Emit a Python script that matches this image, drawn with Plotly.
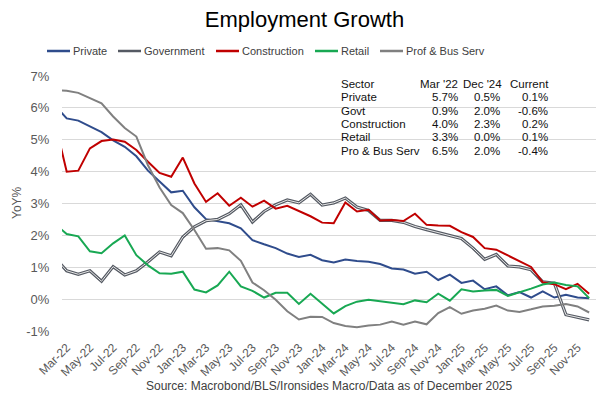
import plotly.graph_objects as go

months = ["Feb-22", "Mar-22", "Apr-22", "May-22", "Jun-22", "Jul-22", "Aug-22", "Sep-22", "Oct-22", "Nov-22", "Dec-22",
          "Jan-23", "Feb-23", "Mar-23", "Apr-23", "May-23", "Jun-23", "Jul-23", "Aug-23", "Sep-23", "Oct-23", "Nov-23", "Dec-23",
          "Jan-24", "Feb-24", "Mar-24", "Apr-24", "May-24", "Jun-24", "Jul-24", "Aug-24", "Sep-24", "Oct-24", "Nov-24", "Dec-24",
          "Jan-25", "Feb-25", "Mar-25", "Apr-25", "May-25", "Jun-25", "Jul-25", "Aug-25", "Sep-25", "Oct-25", "Nov-25", "Dec-25"]

private = [6.07, 5.67, 5.60, 5.43, 5.24, 4.98, 4.78, 4.48, 4.03, 3.69, 3.35, 3.40, 2.88, 2.51, 2.44, 2.38, 2.22, 1.85, 1.72,
           1.60, 1.43, 1.32, 1.39, 1.22, 1.15, 1.24, 1.20, 1.17, 1.10, 0.96, 0.93, 0.80, 0.86, 0.60, 0.77, 0.51, 0.58, 0.31,
           0.40, 0.12, 0.22, 0.05, 0.24, 0.05, 0.14, 0.05, 0.03]
government = [1.29, 0.89, 0.78, 0.89, 0.56, 1.02, 0.76, 0.89, 1.17, 1.48, 1.36, 1.95, 2.27, 2.46, 2.50, 2.68, 2.96, 2.42, 2.75,
              2.96, 3.11, 3.02, 3.29, 2.95, 3.02, 3.17, 2.89, 2.78, 2.47, 2.47, 2.41, 2.28, 2.18, 2.08, 2.00, 1.90, 1.60, 1.25,
              1.40, 1.04, 1.01, 0.92, 0.54, 0.50, -0.49, -0.56, -0.65]
construction = [5.53, 4.00, 4.03, 4.73, 4.96, 5.01, 4.94, 4.68, 4.31, 3.96, 3.84, 4.44, 3.63, 3.05, 3.32, 2.93, 3.18, 2.90, 3.09,
                2.84, 2.93, 2.76, 2.60, 2.40, 2.38, 3.03, 2.75, 2.80, 2.47, 2.48, 2.45, 2.68, 2.33, 2.31, 2.30, 2.10, 1.95, 1.60,
                1.55, 1.37, 1.18, 1.01, 0.53, 0.47, 0.31, 0.48, 0.17]
retail = [2.36, 2.04, 1.97, 1.50, 1.44, 1.75, 2.00, 1.38, 1.06, 0.81, 0.80, 0.86, 0.30, 0.21, 0.43, 0.86, 0.40, 0.26, 0.05,
          0.20, 0.20, -0.15, 0.17, -0.15, -0.45, -0.22, -0.08, -0.02, -0.07, -0.13, -0.16, -0.04, -0.10, 0.17, -0.05, 0.31,
          0.24, 0.27, 0.29, 0.10, 0.21, 0.33, 0.46, 0.52, 0.44, 0.40, 0.03]
prof_bus = [6.55, 6.54, 6.47, 6.30, 6.14, 5.73, 5.37, 5.10, 4.20, 3.50, 2.95, 2.70, 2.17, 1.58, 1.60, 1.53, 1.20, 0.52, 0.28,
            -0.02, -0.38, -0.64, -0.55, -0.56, -0.75, -0.84, -0.88, -0.83, -0.80, -0.70, -0.80, -0.70, -0.79, -0.44, -0.25,
            -0.46, -0.36, -0.30, -0.20, -0.36, -0.40, -0.32, -0.23, -0.21, -0.15, -0.23, -0.42]

tick_labels = months[1::2]
y_ticks = [-1, 0, 1, 2, 3, 4, 5, 6, 7]

series_names = ["Private", "Government", "Construction", "Retail", "Prof & Bus Serv"]
series_colors = ["#2F4C8C", "#555A63", "#C00000", "#18A853", "#808080"]

table_header = ["Sector", "Mar '22", "Dec '24", "Current"]
table_sectors = ["Private", "Govt", "Construction", "Retail", "Pro & Bus Serv"]
table_mar22 = ["5.7%", "0.9%", "4.0%", "3.3%", "6.5%"]
table_dec24 = ["0.5%", "2.0%", "2.3%", "0.0%", "2.0%"]
table_current = ["0.1%", "-0.6%", "0.2%", "0.1%", "-0.4%"]

FONT = "Liberation Sans, Arial, sans-serif"
W, H = 609, 399
L, R, T, B = 62, 13, 76, 68
PW, PH = W - L - R, H - T - B


def px(x):
    return (x - L) / PW


def py(y):
    return (H - B - y) / PH


fig = go.Figure()
series_values = [private, government, construction, retail, prof_bus]
for name, color, vals in zip(series_names, series_colors, series_values):
    if name == "Government":
        fig.add_trace(go.Scatter(x=months, y=vals, name=name, mode="lines", showlegend=False,
                                 line=dict(color=color, width=3.2)))
        fig.add_trace(go.Scatter(x=months, y=vals, name=name, mode="lines", showlegend=False,
                                 hoverinfo="skip", line=dict(color="#E8E8E8", width=1)))
    else:
        fig.add_trace(go.Scatter(x=months, y=vals, name=name, mode="lines", showlegend=False,
                                 line=dict(color=color, width=2)))

annotations = []
shapes = []

# legend (custom, to match the reference spacing)
leg_line_x = [47, 118, 216, 315, 380]
leg_y = 51
for name, color, lx in zip(series_names, series_colors, leg_line_x):
    shapes.append(dict(type="line", xref="paper", yref="paper", x0=px(lx), x1=px(lx + 23),
                       y0=py(leg_y), y1=py(leg_y), line=dict(color=color, width=2.5)))
    annotations.append(dict(x=px(lx + 24), y=py(leg_y), xref="paper", yref="paper", text=name,
                            showarrow=False, xanchor="left", yanchor="middle",
                            font=dict(family=FONT, size=11, color="#404040")))

# table
hdr_x = [339, 460, 503.5, 551]
val_x = [339, 459.5, 501.5, 550]
row_y0, row_dy = 84, 13.3
columns = [table_sectors, table_mar22, table_dec24, table_current]
for c, hdr in enumerate(table_header):
    anchor = "left" if c == 0 else "right"
    annotations.append(dict(x=px(hdr_x[c]), y=py(row_y0), xref="paper", yref="paper", text=hdr,
                            showarrow=False, xanchor=anchor, yanchor="middle",
                            font=dict(family=FONT, size=11.5, color="#111111")))
    for r, val in enumerate(columns[c]):
        annotations.append(dict(x=px(val_x[c]), y=py(row_y0 + row_dy * (r + 1)), xref="paper", yref="paper",
                                text=val, showarrow=False, xanchor=anchor,
                                yanchor="middle", font=dict(family=FONT, size=11.5, color="#111111")))

annotations.append(dict(x=px(17), y=py(203), xref="paper", yref="paper", text="YoY%", textangle=-90,
                        showarrow=False, xanchor="center", yanchor="middle",
                        font=dict(family=FONT, size=12, color="#595959")))
annotations.append(dict(x=0.5, y=py(386), xref="paper", yref="paper",
                        text="Source: Macrobond/BLS/Ironsides Macro/Data as of December 2025",
                        showarrow=False, xanchor="center", yanchor="middle",
                        font=dict(family=FONT, size=12, color="#404040")))

fig.update_layout(
    width=W, height=H,
    margin=dict(l=L, r=R, t=T, b=B, autoexpand=False),
    paper_bgcolor="white", plot_bgcolor="white",
    title=dict(text="Employment Growth", x=0.5, xanchor="center", xref="container",
               y=1 - 19 / H, yanchor="middle", yref="container",
               font=dict(family=FONT, size=22, color="#000000")),
    showlegend=False,
    annotations=annotations,
    shapes=shapes,
    font=dict(family=FONT),
)

fig.update_xaxes(type="category", range=[0.595, 46.59], tickmode="array", tickvals=tick_labels,
                 ticktext=tick_labels, tickangle=-45, showgrid=False, showline=False, zeroline=False,
                 ticks="outside", ticklen=4, tickcolor="rgba(0,0,0,0)",
                 tickfont=dict(family=FONT, size=12, color="#595959"))
fig.update_yaxes(range=[-1, 7], tickvals=y_ticks, ticktext=[f"{v}%" for v in y_ticks],
                 showgrid=True, gridcolor="#D9D9D9", gridwidth=1, zeroline=False, showline=False,
                 ticks="outside", ticklen=9, tickcolor="rgba(0,0,0,0)",
                 tickfont=dict(family=FONT, size=13, color="#595959"))

fig.write_html("out.html", config={"displayModeBar": False},
               post_script="document.body.style.margin='0';document.body.style.overflow='hidden';")
